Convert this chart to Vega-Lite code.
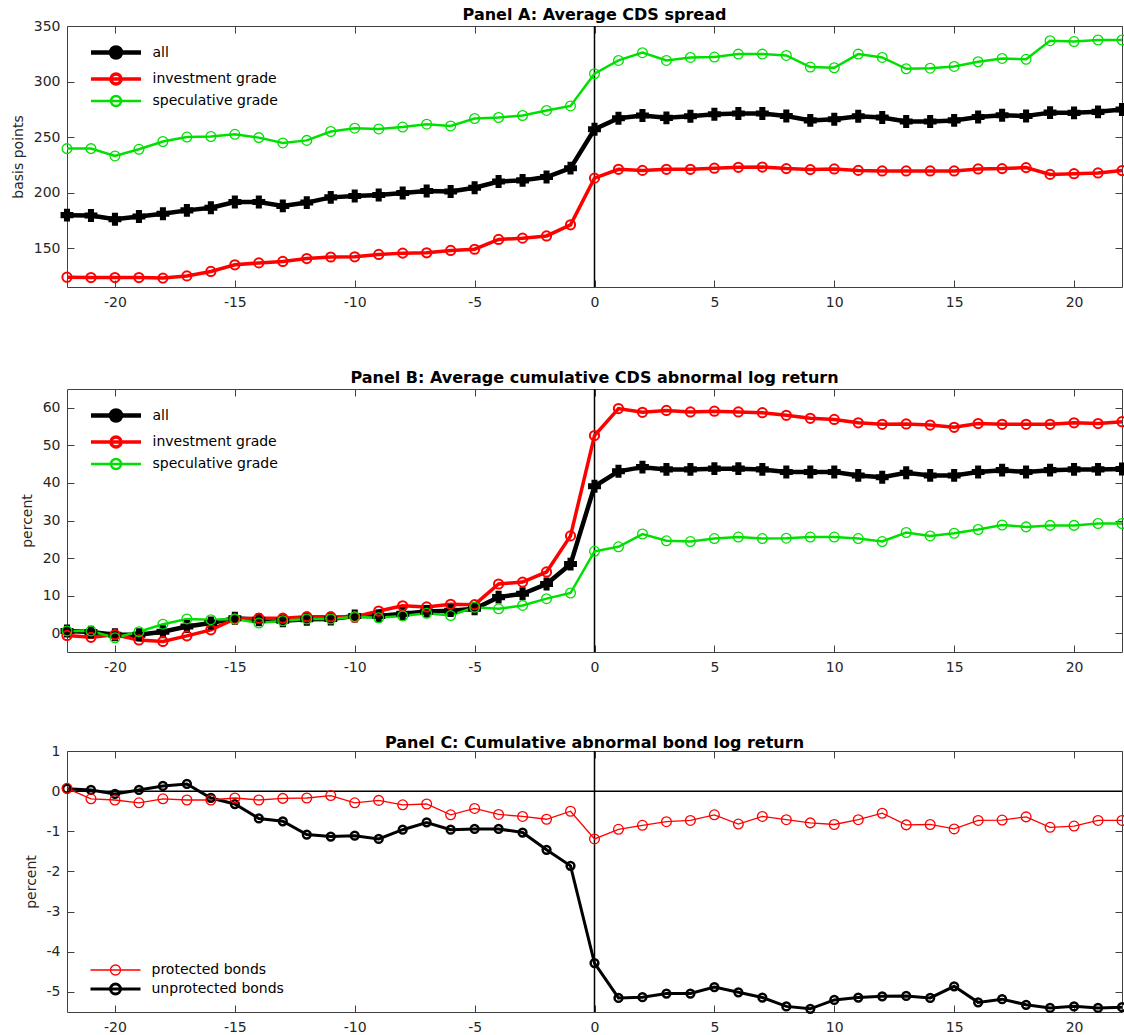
{
 "$schema": "https://vega.github.io/schema/vega-lite/v6.json",
 "background": "white",
 "padding": {"left": 10, "top": 6, "right": 0, "bottom": 0},
 "spacing": 59,
 "resolve": {"scale": {"color": "independent", "strokeWidth": "independent"}, "legend": {"color": "independent", "strokeWidth": "independent"}},
 "config": {
  "view": {"stroke": "#404040", "strokeWidth": 1},
  "font": "DejaVu Sans",
  "axis": {"grid": false, "domain": false, "tickSize": -7, "tickColor": "#404040", "tickWidth": 1, "labelFont": "DejaVu Sans", "labelFontSize": 14, "labelColor": "#262626", "titleFont": "DejaVu Sans", "titleFontSize": 14, "titleFontWeight": "normal", "titleColor": "#262626"},
  "title": {"font": "DejaVu Sans", "fontSize": 16, "fontWeight": "bold", "color": "#000000", "anchor": "middle", "frame": "group"},
  "legend": {"labelFont": "DejaVu Sans", "labelFontSize": 14, "labelColor": "#000000", "padding": 0, "rowPadding": 0, "orient": "none", "symbolSize": 100, "symbolType": "M-5,0H5M-1,0A1,1 0 1,0 1,0A1,1 0 1,0 -1,0", "labelOffset": 29}
 },
 "datasets": {
  "A": [
   {"t":-22,"s":"all","v":179.7},{"t":-21,"s":"all","v":179.4},{"t":-20,"s":"all","v":176},{"t":-19,"s":"all","v":178.5},{"t":-18,"s":"all","v":181},{"t":-17,"s":"all","v":184},{"t":-16,"s":"all","v":186.4},{"t":-15,"s":"all","v":191.5},{"t":-14,"s":"all","v":191.5},{"t":-13,"s":"all","v":188},{"t":-12,"s":"all","v":191},{"t":-11,"s":"all","v":195.7},{"t":-10,"s":"all","v":197},{"t":-9,"s":"all","v":197.8},{"t":-8,"s":"all","v":199.6},{"t":-7,"s":"all","v":201.4},{"t":-6,"s":"all","v":201},{"t":-5,"s":"all","v":204.4},{"t":-4,"s":"all","v":210},{"t":-3,"s":"all","v":211},{"t":-2,"s":"all","v":214},{"t":-1,"s":"all","v":222},{"t":0,"s":"all","v":257},{"t":1,"s":"all","v":267},{"t":2,"s":"all","v":269.4},{"t":3,"s":"all","v":267.3},{"t":4,"s":"all","v":268.8},{"t":5,"s":"all","v":270.6},{"t":6,"s":"all","v":271.2},{"t":7,"s":"all","v":271.2},{"t":8,"s":"all","v":269},{"t":9,"s":"all","v":265},{"t":10,"s":"all","v":266},{"t":11,"s":"all","v":268.8},{"t":12,"s":"all","v":267.6},{"t":13,"s":"all","v":264},{"t":14,"s":"all","v":264},{"t":15,"s":"all","v":265},{"t":16,"s":"all","v":268},{"t":17,"s":"all","v":269.7},{"t":18,"s":"all","v":269},{"t":19,"s":"all","v":272},{"t":20,"s":"all","v":271.8},{"t":21,"s":"all","v":272.7},{"t":22,"s":"all","v":274.8},
   {"t":-22,"s":"investment grade","v":123.8},{"t":-21,"s":"investment grade","v":123.5},{"t":-20,"s":"investment grade","v":123.5},{"t":-19,"s":"investment grade","v":123.5},{"t":-18,"s":"investment grade","v":123},{"t":-17,"s":"investment grade","v":125},{"t":-16,"s":"investment grade","v":129},{"t":-15,"s":"investment grade","v":135},{"t":-14,"s":"investment grade","v":136.7},{"t":-13,"s":"investment grade","v":138},{"t":-12,"s":"investment grade","v":140.6},{"t":-11,"s":"investment grade","v":142},{"t":-10,"s":"investment grade","v":142.2},{"t":-9,"s":"investment grade","v":144.3},{"t":-8,"s":"investment grade","v":145.5},{"t":-7,"s":"investment grade","v":145.8},{"t":-6,"s":"investment grade","v":147.9},{"t":-5,"s":"investment grade","v":149},{"t":-4,"s":"investment grade","v":157.8},{"t":-3,"s":"investment grade","v":159},{"t":-2,"s":"investment grade","v":161},{"t":-1,"s":"investment grade","v":171},{"t":0,"s":"investment grade","v":213},{"t":1,"s":"investment grade","v":221},{"t":2,"s":"investment grade","v":220},{"t":3,"s":"investment grade","v":221},{"t":4,"s":"investment grade","v":221},{"t":5,"s":"investment grade","v":222},{"t":6,"s":"investment grade","v":222.8},{"t":7,"s":"investment grade","v":223},{"t":8,"s":"investment grade","v":221.6},{"t":9,"s":"investment grade","v":220.7},{"t":10,"s":"investment grade","v":221.3},{"t":11,"s":"investment grade","v":220},{"t":12,"s":"investment grade","v":219.5},{"t":13,"s":"investment grade","v":219.5},{"t":14,"s":"investment grade","v":219.5},{"t":15,"s":"investment grade","v":219.5},{"t":16,"s":"investment grade","v":221.3},{"t":17,"s":"investment grade","v":221.6},{"t":18,"s":"investment grade","v":222.5},{"t":19,"s":"investment grade","v":216.4},{"t":20,"s":"investment grade","v":217},{"t":21,"s":"investment grade","v":217.7},{"t":22,"s":"investment grade","v":219.8},
   {"t":-22,"s":"speculative grade","v":239.6},{"t":-21,"s":"speculative grade","v":239.6},{"t":-20,"s":"speculative grade","v":233},{"t":-19,"s":"speculative grade","v":239},{"t":-18,"s":"speculative grade","v":246},{"t":-17,"s":"speculative grade","v":250},{"t":-16,"s":"speculative grade","v":250.5},{"t":-15,"s":"speculative grade","v":252.5},{"t":-14,"s":"speculative grade","v":249.5},{"t":-13,"s":"speculative grade","v":244.7},{"t":-12,"s":"speculative grade","v":247},{"t":-11,"s":"speculative grade","v":255},{"t":-10,"s":"speculative grade","v":258},{"t":-9,"s":"speculative grade","v":257.3},{"t":-8,"s":"speculative grade","v":259},{"t":-7,"s":"speculative grade","v":261.6},{"t":-6,"s":"speculative grade","v":260},{"t":-5,"s":"speculative grade","v":266.7},{"t":-4,"s":"speculative grade","v":267.6},{"t":-3,"s":"speculative grade","v":269.4},{"t":-2,"s":"speculative grade","v":274},{"t":-1,"s":"speculative grade","v":278},{"t":0,"s":"speculative grade","v":307},{"t":1,"s":"speculative grade","v":319},{"t":2,"s":"speculative grade","v":326},{"t":3,"s":"speculative grade","v":319},{"t":4,"s":"speculative grade","v":321.7},{"t":5,"s":"speculative grade","v":322},{"t":6,"s":"speculative grade","v":324.7},{"t":7,"s":"speculative grade","v":324.7},{"t":8,"s":"speculative grade","v":323.5},{"t":9,"s":"speculative grade","v":313},{"t":10,"s":"speculative grade","v":312.4},{"t":11,"s":"speculative grade","v":324.7},{"t":12,"s":"speculative grade","v":321.7},{"t":13,"s":"speculative grade","v":311.5},{"t":14,"s":"speculative grade","v":312},{"t":15,"s":"speculative grade","v":313.6},{"t":16,"s":"speculative grade","v":317.8},{"t":17,"s":"speculative grade","v":320.8},{"t":18,"s":"speculative grade","v":320},{"t":19,"s":"speculative grade","v":336.8},{"t":20,"s":"speculative grade","v":336},{"t":21,"s":"speculative grade","v":337.4},{"t":22,"s":"speculative grade","v":337.4}
  ],
  "B": [
   {"t":-22,"s":"all","v":0.6},{"t":-21,"s":"all","v":0.3},{"t":-20,"s":"all","v":-0.4},{"t":-19,"s":"all","v":-0.4},{"t":-18,"s":"all","v":0.4},{"t":-17,"s":"all","v":1.8},{"t":-16,"s":"all","v":2.7},{"t":-15,"s":"all","v":4},{"t":-14,"s":"all","v":3.6},{"t":-13,"s":"all","v":3.3},{"t":-12,"s":"all","v":3.7},{"t":-11,"s":"all","v":3.8},{"t":-10,"s":"all","v":4.6},{"t":-9,"s":"all","v":4.6},{"t":-8,"s":"all","v":5.2},{"t":-7,"s":"all","v":5.8},{"t":-6,"s":"all","v":6},{"t":-5,"s":"all","v":6.5},{"t":-4,"s":"all","v":9.6},{"t":-3,"s":"all","v":10.5},{"t":-2,"s":"all","v":13.1},{"t":-1,"s":"all","v":18.4},{"t":0,"s":"all","v":39.1},{"t":1,"s":"all","v":43.1},{"t":2,"s":"all","v":44.2},{"t":3,"s":"all","v":43.6},{"t":4,"s":"all","v":43.6},{"t":5,"s":"all","v":43.8},{"t":6,"s":"all","v":43.8},{"t":7,"s":"all","v":43.6},{"t":8,"s":"all","v":42.9},{"t":9,"s":"all","v":42.9},{"t":10,"s":"all","v":42.9},{"t":11,"s":"all","v":42},{"t":12,"s":"all","v":41.5},{"t":13,"s":"all","v":42.7},{"t":14,"s":"all","v":42},{"t":15,"s":"all","v":42},{"t":16,"s":"all","v":42.9},{"t":17,"s":"all","v":43.4},{"t":18,"s":"all","v":42.9},{"t":19,"s":"all","v":43.4},{"t":20,"s":"all","v":43.6},{"t":21,"s":"all","v":43.6},{"t":22,"s":"all","v":43.7},
   {"t":-22,"s":"investment grade","v":-0.6},{"t":-21,"s":"investment grade","v":-1.1},{"t":-20,"s":"investment grade","v":-0.4},{"t":-19,"s":"investment grade","v":-1.8},{"t":-18,"s":"investment grade","v":-2.2},{"t":-17,"s":"investment grade","v":-0.7},{"t":-16,"s":"investment grade","v":0.9},{"t":-15,"s":"investment grade","v":3.8},{"t":-14,"s":"investment grade","v":4},{"t":-13,"s":"investment grade","v":4},{"t":-12,"s":"investment grade","v":4.4},{"t":-11,"s":"investment grade","v":4.4},{"t":-10,"s":"investment grade","v":4.3},{"t":-9,"s":"investment grade","v":5.9},{"t":-8,"s":"investment grade","v":7.3},{"t":-7,"s":"investment grade","v":7},{"t":-6,"s":"investment grade","v":7.7},{"t":-5,"s":"investment grade","v":7.6},{"t":-4,"s":"investment grade","v":13.1},{"t":-3,"s":"investment grade","v":13.6},{"t":-2,"s":"investment grade","v":16.3},{"t":-1,"s":"investment grade","v":25.9},{"t":0,"s":"investment grade","v":52.6},{"t":1,"s":"investment grade","v":59.8},{"t":2,"s":"investment grade","v":58.8},{"t":3,"s":"investment grade","v":59.3},{"t":4,"s":"investment grade","v":58.9},{"t":5,"s":"investment grade","v":59.1},{"t":6,"s":"investment grade","v":58.9},{"t":7,"s":"investment grade","v":58.7},{"t":8,"s":"investment grade","v":58},{"t":9,"s":"investment grade","v":57.2},{"t":10,"s":"investment grade","v":56.9},{"t":11,"s":"investment grade","v":56},{"t":12,"s":"investment grade","v":55.6},{"t":13,"s":"investment grade","v":55.7},{"t":14,"s":"investment grade","v":55.4},{"t":15,"s":"investment grade","v":54.8},{"t":16,"s":"investment grade","v":55.8},{"t":17,"s":"investment grade","v":55.6},{"t":18,"s":"investment grade","v":55.6},{"t":19,"s":"investment grade","v":55.6},{"t":20,"s":"investment grade","v":56},{"t":21,"s":"investment grade","v":55.8},{"t":22,"s":"investment grade","v":56.3},
   {"t":-22,"s":"speculative grade","v":0.6},{"t":-21,"s":"speculative grade","v":0.6},{"t":-20,"s":"speculative grade","v":-1.2},{"t":-19,"s":"speculative grade","v":0.4},{"t":-18,"s":"speculative grade","v":2.4},{"t":-17,"s":"speculative grade","v":3.8},{"t":-16,"s":"speculative grade","v":3.6},{"t":-15,"s":"speculative grade","v":3.8},{"t":-14,"s":"speculative grade","v":2.7},{"t":-13,"s":"speculative grade","v":3.3},{"t":-12,"s":"speculative grade","v":3.8},{"t":-11,"s":"speculative grade","v":3.8},{"t":-10,"s":"speculative grade","v":4.4},{"t":-9,"s":"speculative grade","v":4.1},{"t":-8,"s":"speculative grade","v":4.6},{"t":-7,"s":"speculative grade","v":5.3},{"t":-6,"s":"speculative grade","v":4.7},{"t":-5,"s":"speculative grade","v":6.9},{"t":-4,"s":"speculative grade","v":6.5},{"t":-3,"s":"speculative grade","v":7.4},{"t":-2,"s":"speculative grade","v":9.2},{"t":-1,"s":"speculative grade","v":10.7},{"t":0,"s":"speculative grade","v":21.8},{"t":1,"s":"speculative grade","v":23},{"t":2,"s":"speculative grade","v":26.4},{"t":3,"s":"speculative grade","v":24.6},{"t":4,"s":"speculative grade","v":24.4},{"t":5,"s":"speculative grade","v":25.2},{"t":6,"s":"speculative grade","v":25.6},{"t":7,"s":"speculative grade","v":25.2},{"t":8,"s":"speculative grade","v":25.3},{"t":9,"s":"speculative grade","v":25.6},{"t":10,"s":"speculative grade","v":25.6},{"t":11,"s":"speculative grade","v":25.2},{"t":12,"s":"speculative grade","v":24.4},{"t":13,"s":"speculative grade","v":26.8},{"t":14,"s":"speculative grade","v":25.9},{"t":15,"s":"speculative grade","v":26.6},{"t":16,"s":"speculative grade","v":27.6},{"t":17,"s":"speculative grade","v":28.8},{"t":18,"s":"speculative grade","v":28.3},{"t":19,"s":"speculative grade","v":28.7},{"t":20,"s":"speculative grade","v":28.7},{"t":21,"s":"speculative grade","v":29.2},{"t":22,"s":"speculative grade","v":29.2}
  ],
  "C": [
   {"t":-22,"s":"unprotected bonds","v":0.06},{"t":-21,"s":"unprotected bonds","v":0.03},{"t":-20,"s":"unprotected bonds","v":-0.07},{"t":-19,"s":"unprotected bonds","v":0.03},{"t":-18,"s":"unprotected bonds","v":0.13},{"t":-17,"s":"unprotected bonds","v":0.18},{"t":-16,"s":"unprotected bonds","v":-0.17},{"t":-15,"s":"unprotected bonds","v":-0.32},{"t":-14,"s":"unprotected bonds","v":-0.68},{"t":-13,"s":"unprotected bonds","v":-0.75},{"t":-12,"s":"unprotected bonds","v":-1.08},{"t":-11,"s":"unprotected bonds","v":-1.13},{"t":-10,"s":"unprotected bonds","v":-1.11},{"t":-9,"s":"unprotected bonds","v":-1.19},{"t":-8,"s":"unprotected bonds","v":-0.96},{"t":-7,"s":"unprotected bonds","v":-0.78},{"t":-6,"s":"unprotected bonds","v":-0.96},{"t":-5,"s":"unprotected bonds","v":-0.94},{"t":-4,"s":"unprotected bonds","v":-0.94},{"t":-3,"s":"unprotected bonds","v":-1.03},{"t":-2,"s":"unprotected bonds","v":-1.46},{"t":-1,"s":"unprotected bonds","v":-1.86},{"t":0,"s":"unprotected bonds","v":-4.28},{"t":1,"s":"unprotected bonds","v":-5.15},{"t":2,"s":"unprotected bonds","v":-5.13},{"t":3,"s":"unprotected bonds","v":-5.04},{"t":4,"s":"unprotected bonds","v":-5.04},{"t":5,"s":"unprotected bonds","v":-4.88},{"t":6,"s":"unprotected bonds","v":-5.01},{"t":7,"s":"unprotected bonds","v":-5.14},{"t":8,"s":"unprotected bonds","v":-5.36},{"t":9,"s":"unprotected bonds","v":-5.42},{"t":10,"s":"unprotected bonds","v":-5.2},{"t":11,"s":"unprotected bonds","v":-5.14},{"t":12,"s":"unprotected bonds","v":-5.11},{"t":13,"s":"unprotected bonds","v":-5.1},{"t":14,"s":"unprotected bonds","v":-5.15},{"t":15,"s":"unprotected bonds","v":-4.86},{"t":16,"s":"unprotected bonds","v":-5.26},{"t":17,"s":"unprotected bonds","v":-5.18},{"t":18,"s":"unprotected bonds","v":-5.32},{"t":19,"s":"unprotected bonds","v":-5.4},{"t":20,"s":"unprotected bonds","v":-5.36},{"t":21,"s":"unprotected bonds","v":-5.4},{"t":22,"s":"unprotected bonds","v":-5.38},
   {"t":-22,"s":"protected bonds","v":0.07},{"t":-21,"s":"protected bonds","v":-0.19},{"t":-20,"s":"protected bonds","v":-0.22},{"t":-19,"s":"protected bonds","v":-0.29},{"t":-18,"s":"protected bonds","v":-0.19},{"t":-17,"s":"protected bonds","v":-0.22},{"t":-16,"s":"protected bonds","v":-0.22},{"t":-15,"s":"protected bonds","v":-0.17},{"t":-14,"s":"protected bonds","v":-0.22},{"t":-13,"s":"protected bonds","v":-0.18},{"t":-12,"s":"protected bonds","v":-0.17},{"t":-11,"s":"protected bonds","v":-0.11},{"t":-10,"s":"protected bonds","v":-0.29},{"t":-9,"s":"protected bonds","v":-0.23},{"t":-8,"s":"protected bonds","v":-0.34},{"t":-7,"s":"protected bonds","v":-0.32},{"t":-6,"s":"protected bonds","v":-0.59},{"t":-5,"s":"protected bonds","v":-0.43},{"t":-4,"s":"protected bonds","v":-0.58},{"t":-3,"s":"protected bonds","v":-0.63},{"t":-2,"s":"protected bonds","v":-0.7},{"t":-1,"s":"protected bonds","v":-0.5},{"t":0,"s":"protected bonds","v":-1.19},{"t":1,"s":"protected bonds","v":-0.95},{"t":2,"s":"protected bonds","v":-0.85},{"t":3,"s":"protected bonds","v":-0.76},{"t":4,"s":"protected bonds","v":-0.73},{"t":5,"s":"protected bonds","v":-0.59},{"t":6,"s":"protected bonds","v":-0.82},{"t":7,"s":"protected bonds","v":-0.63},{"t":8,"s":"protected bonds","v":-0.71},{"t":9,"s":"protected bonds","v":-0.79},{"t":10,"s":"protected bonds","v":-0.83},{"t":11,"s":"protected bonds","v":-0.71},{"t":12,"s":"protected bonds","v":-0.55},{"t":13,"s":"protected bonds","v":-0.84},{"t":14,"s":"protected bonds","v":-0.83},{"t":15,"s":"protected bonds","v":-0.94},{"t":16,"s":"protected bonds","v":-0.73},{"t":17,"s":"protected bonds","v":-0.72},{"t":18,"s":"protected bonds","v":-0.64},{"t":19,"s":"protected bonds","v":-0.9},{"t":20,"s":"protected bonds","v":-0.87},{"t":21,"s":"protected bonds","v":-0.73},{"t":22,"s":"protected bonds","v":-0.73}
  ]
 },
 "vconcat": [
  {
   "title": {"text": "Panel A: Average CDS spread", "offset": -4},
   "width": 1055, "height": 261,
   "data": {"name": "A"},
   "layer": [
    {"data": {"values": [{"t": 0}]}, "mark": {"type": "rule", "color": "black", "strokeWidth": 1.5},
     "encoding": {"x": {"field": "t", "type": "quantitative", "scale": {"domain": [-22, 22], "nice": false, "zero": false}, "axis": {"orient": "top", "labels": false, "values": [-20,-15,-10,-5,0,5,10,15,20], "title": null}}}},
    {"mark": {"type": "line"},
     "encoding": {
      "x": {"field": "t", "type": "quantitative", "scale": {"domain": [-22, 22], "nice": false, "zero": false}, "axis": {"orient": "bottom", "values": [-20,-15,-10,-5,0,5,10,15,20], "title": null, "labelExpr": "'' + datum.value", "labelPadding": 15}},
      "y": {"field": "v", "type": "quantitative", "scale": {"domain": [115, 350], "nice": false, "zero": false}, "axis": {"orient": "left", "values": [150,200,250,300,350], "title": "basis points", "labelPadding": 14, "titlePadding": 8}},
      "color": {"field": "s", "type": "nominal", "scale": {"domain": ["all","investment grade","speculative grade"], "range": ["#000000","#ff0000","#00e000"]},
       "legend": {"title": null, "legendX": 41.5, "legendY": 19, "encode": {"symbols": {"update": {"fill": {"signal": "datum.value === 'all' ? 'black' : 'transparent'"}, "strokeWidth": {"signal": "datum.value === 'all' ? 4.5 : datum.value === 'investment grade' ? 2.5 : 1.5"}}}}}},
      "strokeWidth": {"field": "s", "type": "nominal", "scale": {"domain": ["all","investment grade","speculative grade"], "range": [4.5, 2.5, 1.5]}, "legend": null}
     }},
    {"transform": [{"filter": "datum.s === 'all'"}], "mark": {"type": "point", "shape": "cross", "filled": true, "color": "black", "stroke": "black", "strokeWidth": 1.5, "size": 130, "opacity": 1},
     "encoding": {"x": {"field": "t", "type": "quantitative", "axis": null}, "y": {"field": "v", "type": "quantitative", "axis": {"orient": "right", "labels": false, "values": [150,200,250,300,350], "title": null}}}},
    {"transform": [{"filter": "datum.s === 'investment grade'"}], "mark": {"type": "point", "shape": "circle", "filled": false, "color": "#ff0000", "strokeWidth": 2, "size": 85, "opacity": 1},
     "encoding": {"x": {"field": "t", "type": "quantitative", "axis": null}, "y": {"field": "v", "type": "quantitative", "axis": null}}},
    {"transform": [{"filter": "datum.s === 'speculative grade'"}], "mark": {"type": "point", "shape": "circle", "filled": false, "color": "#00e000", "strokeWidth": 1.3, "size": 95, "opacity": 1},
     "encoding": {"x": {"field": "t", "type": "quantitative", "axis": null}, "y": {"field": "v", "type": "quantitative", "axis": null}}}
   ],
   "resolve": {"axis": {"x": "independent", "y": "independent"}}
  },
  {
   "title": {"text": "Panel B: Average cumulative CDS abnormal log return", "offset": 2},
   "width": 1055, "height": 263,
   "data": {"name": "B"},
   "layer": [
    {"data": {"values": [{"t": 0}]}, "mark": {"type": "rule", "color": "black", "strokeWidth": 1.5},
     "encoding": {"x": {"field": "t", "type": "quantitative", "scale": {"domain": [-22, 22], "nice": false, "zero": false}, "axis": {"orient": "top", "labels": false, "values": [-20,-15,-10,-5,0,5,10,15,20], "title": null}}}},
    {"mark": {"type": "line"},
     "encoding": {
      "x": {"field": "t", "type": "quantitative", "scale": {"domain": [-22, 22], "nice": false, "zero": false}, "axis": {"orient": "bottom", "values": [-20,-15,-10,-5,0,5,10,15,20], "title": null, "labelExpr": "'' + datum.value", "labelPadding": 15}},
      "y": {"field": "v", "type": "quantitative", "scale": {"domain": [-5, 65], "nice": false, "zero": false}, "axis": {"orient": "left", "values": [0,10,20,30,40,50,60], "title": "percent", "labelPadding": 14, "titlePadding": 8}},
      "color": {"field": "s", "type": "nominal", "scale": {"domain": ["all","investment grade","speculative grade"], "range": ["#000000","#ff0000","#00e000"]},
       "legend": {"title": null, "legendX": 41.5, "legendY": 19, "encode": {"symbols": {"update": {"fill": {"signal": "datum.value === 'all' ? 'black' : 'transparent'"}, "strokeWidth": {"signal": "datum.value === 'all' ? 4.5 : datum.value === 'investment grade' ? 2.5 : 1.5"}}}}}},
      "strokeWidth": {"field": "s", "type": "nominal", "scale": {"domain": ["all","investment grade","speculative grade"], "range": [4.5, 2.5, 1.5]}, "legend": null}
     }},
    {"transform": [{"filter": "datum.s === 'all'"}], "mark": {"type": "point", "shape": "cross", "filled": true, "color": "black", "stroke": "black", "strokeWidth": 1.5, "size": 130, "opacity": 1},
     "encoding": {"x": {"field": "t", "type": "quantitative", "axis": null}, "y": {"field": "v", "type": "quantitative", "axis": {"orient": "right", "labels": false, "values": [0,10,20,30,40,50,60], "title": null}}}},
    {"transform": [{"filter": "datum.s === 'investment grade'"}], "mark": {"type": "point", "shape": "circle", "filled": false, "color": "#ff0000", "strokeWidth": 2, "size": 85, "opacity": 1},
     "encoding": {"x": {"field": "t", "type": "quantitative", "axis": null}, "y": {"field": "v", "type": "quantitative", "axis": null}}},
    {"transform": [{"filter": "datum.s === 'speculative grade'"}], "mark": {"type": "point", "shape": "circle", "filled": false, "color": "#00e000", "strokeWidth": 1.3, "size": 95, "opacity": 1},
     "encoding": {"x": {"field": "t", "type": "quantitative", "axis": null}, "y": {"field": "v", "type": "quantitative", "axis": null}}}
   ],
   "resolve": {"axis": {"x": "independent", "y": "independent"}}
  },
  {
   "title": {"text": "Panel C: Cumulative abnormal bond log return", "offset": -7},
   "width": 1055, "height": 261,
   "data": {"name": "C"},
   "layer": [
    {"data": {"values": [{"t": 0}]}, "mark": {"type": "rule", "color": "black", "strokeWidth": 1.5},
     "encoding": {"x": {"field": "t", "type": "quantitative", "scale": {"domain": [-22, 22], "nice": false, "zero": false}, "axis": {"orient": "top", "labels": false, "values": [-20,-15,-10,-5,0,5,10,15,20], "title": null}}}},
    {"data": {"values": [{"v": 0}]}, "mark": {"type": "rule", "color": "black", "strokeWidth": 1.5},
     "encoding": {"y": {"field": "v", "type": "quantitative", "scale": {"domain": [-5.5, 1], "nice": false, "zero": false}, "axis": null}}},
    {"mark": {"type": "line"},
     "encoding": {
      "x": {"field": "t", "type": "quantitative", "scale": {"domain": [-22, 22], "nice": false, "zero": false}, "axis": {"orient": "bottom", "values": [-20,-15,-10,-5,0,5,10,15,20], "title": null, "labelExpr": "'' + datum.value", "labelPadding": 15}},
      "y": {"field": "v", "type": "quantitative", "scale": {"domain": [-5.5, 1], "nice": false, "zero": false}, "axis": {"orient": "left", "values": [-5,-4,-3,-2,-1,0,1], "title": "percent", "labelPadding": 14, "titlePadding": 8, "labelExpr": "'' + datum.value"}},
      "color": {"field": "s", "type": "nominal", "scale": {"domain": ["protected bonds","unprotected bonds"], "range": ["#ff0000","#000000"]},
       "legend": {"title": null, "legendX": 41.5, "legendY": 212, "encode": {"symbols": {"update": {"strokeWidth": {"signal": "datum.value === 'unprotected bonds' ? 3 : 1.3"}, "fill": {"value": "transparent"}}}}}},
      "strokeWidth": {"field": "s", "type": "nominal", "scale": {"domain": ["protected bonds","unprotected bonds"], "range": [1.3, 3]}, "legend": null}
     }},
    {"transform": [{"filter": "datum.s === 'unprotected bonds'"}], "mark": {"type": "point", "shape": "circle", "filled": false, "color": "black", "strokeWidth": 2.5, "size": 60, "opacity": 1},
     "encoding": {"x": {"field": "t", "type": "quantitative", "axis": null}, "y": {"field": "v", "type": "quantitative", "axis": {"orient": "right", "labels": false, "values": [-5,-4,-3,-2,-1,0,1], "title": null}}}},
    {"transform": [{"filter": "datum.s === 'protected bonds'"}], "mark": {"type": "point", "shape": "circle", "filled": false, "color": "#ff0000", "strokeWidth": 1.3, "size": 95, "opacity": 1},
     "encoding": {"x": {"field": "t", "type": "quantitative", "axis": null}, "y": {"field": "v", "type": "quantitative", "axis": null}}}
   ],
   "resolve": {"axis": {"x": "independent", "y": "independent"}}
  }
 ]
}
